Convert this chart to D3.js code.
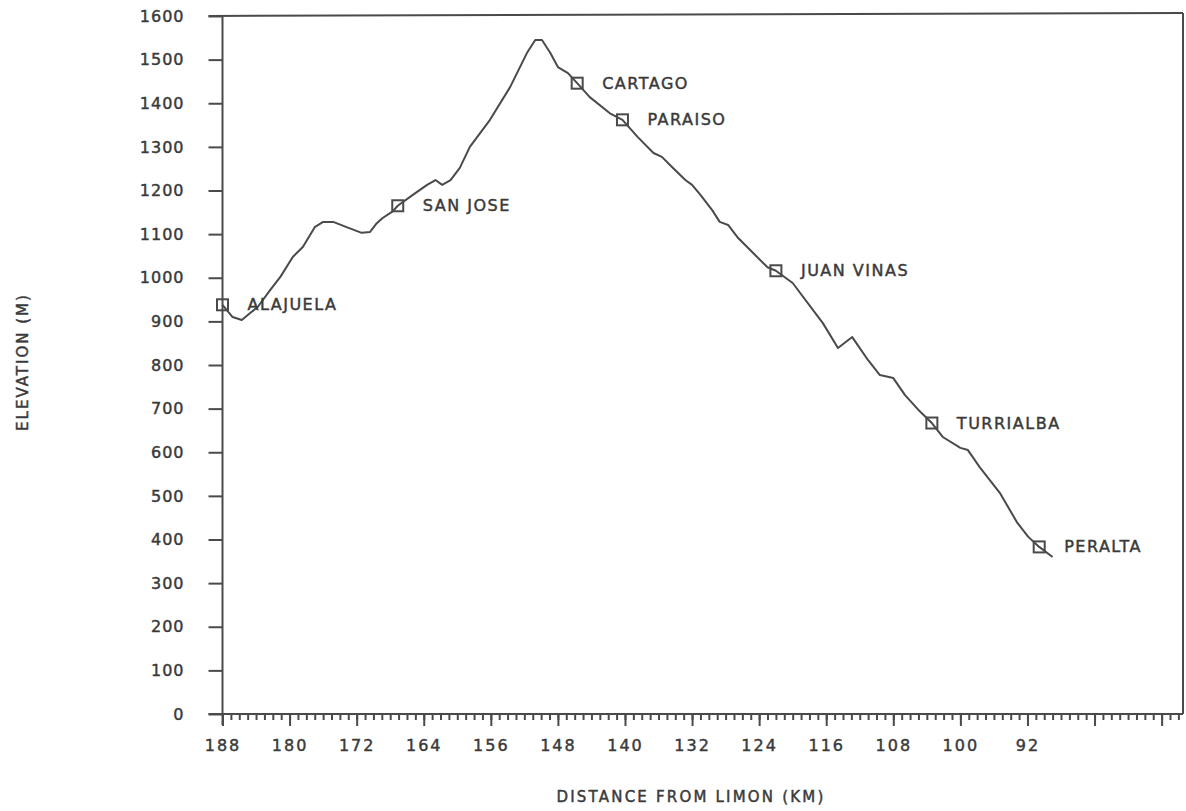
<!DOCTYPE html>
<html>
<head>
<meta charset="utf-8">
<script src="https://cdn.jsdelivr.net/npm/d3@7"></script>
<style>
  html, body { margin: 0; padding: 0; background: #ffffff; }
  svg { display: block; }
  text { font-family: "DejaVu Sans", sans-serif; fill: #3a3a3a; stroke: #3a3a3a; stroke-width: 0.45px; }
</style>
</head>
<body>
<script>
// ---- data ----
const distanceKm = [188, 186.8, 185.7, 184.7, 183.8, 182.3, 181.1, 179.6, 178.4, 177.0, 176.0, 174.8, 173.2, 171.4, 170.4, 169.6, 168.9, 167.7, 167.1, 165.3, 163.6, 162.6, 161.8, 160.8, 159.7, 158.5, 156.1, 153.7, 151.7, 150.7, 149.9, 148.9, 148.0, 146.8, 145.7, 144.2, 141.8, 140.3, 138.5, 136.6, 135.6, 134.3, 132.8, 132.0, 131.0, 129.6, 128.7, 127.7, 126.5, 125.1, 123.0, 122.0, 120.0, 116.4, 114.6, 112.9, 111.0, 109.6, 108.0, 106.6, 105.0, 103.4, 102.1, 100.0, 99.1, 97.7, 95.3, 93.2, 91.9, 90.6, 89.0];
const elevationM = [938, 910, 903, 919, 933, 972, 1002, 1048, 1071, 1116, 1128, 1128, 1116, 1103, 1105, 1125, 1137, 1152, 1165, 1190, 1213, 1224, 1213, 1224, 1252, 1300, 1362, 1437, 1515, 1545, 1545, 1515, 1483, 1469, 1446, 1414, 1377, 1362, 1323, 1286, 1277, 1252, 1224, 1213, 1190, 1155, 1128, 1121, 1091, 1064, 1024, 1016, 988, 896, 839, 864, 811, 777, 770, 731, 697, 667, 635, 610, 605, 566, 507, 438, 406, 383, 360];

const townNames = ["ALAJUELA", "SAN JOSE", "CARTAGO", "PARAISO", "JUAN VINAS", "TURRIALBA", "PERALTA"];
const townKm = [188, 167.1, 145.7, 140.3, 122.0, 103.4, 90.6];
const townElev = [938, 1165, 1446, 1362, 1016, 667, 383];

const xTickLabels = [188, 180, 172, 164, 156, 148, 140, 132, 124, 116, 108, 100, 92];
const xMajorTicks = [188, 180, 172, 164, 156, 148, 140, 132, 124, 116, 108, 100, 92, 84, 76];
const yTicks = [0, 100, 200, 300, 400, 500, 600, 700, 800, 900, 1000, 1100, 1200, 1300, 1400, 1500, 1600];

// ---- layout ----
const W = 1186, H = 811;
const pLeft = 222.5, pRight = 1183, pTop = 16, pBottom = 714;
const ink = "#4a4a4a";

const svg = d3.select("body").append("svg").attr("width", W).attr("height", H);

const x = d3.scaleLinear().domain([188, 73.45]).range([pLeft, pRight]);
const y = d3.scaleLinear().domain([0, 1600]).range([pBottom, pTop]);

// frame: top and right borders
svg.append("line").attr("x1", pLeft - 14).attr("x2", pRight).attr("y1", pTop).attr("y2", pTop - 3)
  .attr("stroke", ink).attr("stroke-width", 2);
svg.append("line").attr("x1", pRight).attr("x2", pRight).attr("y1", pTop - 3).attr("y2", pBottom)
  .attr("stroke", ink).attr("stroke-width", 2);

// y axis
const yAxis = d3.axisLeft(y).tickValues(yTicks).tickSize(14).tickPadding(24).tickFormat(d3.format("d"));
const gy = svg.append("g").attr("transform", `translate(${pLeft},0)`).call(yAxis);
gy.select(".domain").remove();
gy.selectAll(".tick line").attr("stroke", ink).attr("stroke-width", 2);
gy.selectAll(".tick text").attr("font-family", null).style("font-size", "16px").style("letter-spacing", "1px");
svg.append("line").attr("x1", pLeft).attr("x2", pLeft).attr("y1", pTop).attr("y2", pBottom + 11)
  .attr("stroke", ink).attr("stroke-width", 2);

// x axis line
svg.append("line").attr("x1", pLeft - 14).attr("x2", pRight).attr("y1", pBottom).attr("y2", pBottom)
  .attr("stroke", ink).attr("stroke-width", 2);

// minor ticks (every km)
const minor = d3.range(188, 73, -1);
const gMinor = svg.append("g").attr("transform", `translate(0,${pBottom})`)
  .call(d3.axisBottom(x).tickValues(minor).tickSize(6).tickFormat(""));
gMinor.select(".domain").remove();
gMinor.selectAll(".tick line").attr("stroke", ink).attr("stroke-width", 2);

// major ticks with labels
const gx = svg.append("g").attr("transform", `translate(0,${pBottom})`)
  .call(d3.axisBottom(x).tickValues(xMajorTicks).tickSize(12).tickPadding(14)
    .tickFormat(d => xTickLabels.includes(d) ? String(d) : ""));
gx.select(".domain").remove();
gx.selectAll(".tick line").attr("stroke", ink).attr("stroke-width", 2);
gx.selectAll(".tick text").attr("font-family", null).style("font-size", "16px").style("letter-spacing", "2px");

// axis titles
svg.append("text").attr("x", 691).attr("y", 797).attr("text-anchor", "middle").attr("dominant-baseline", "central")
  .style("font-size", "15px").style("letter-spacing", "2.2px").text("DISTANCE FROM LIMON (KM)");
svg.append("text").attr("transform", "translate(23,362) rotate(-90)").attr("text-anchor", "middle")
  .attr("dominant-baseline", "central").style("font-size", "15px").style("letter-spacing", "2px")
  .text("ELEVATION (M)");

// profile line
const pts = distanceKm.map((d, i) => [d, elevationM[i]]);
const line = d3.line().x(d => x(d[0])).y(d => y(d[1])).curve(d3.curveLinear);
svg.append("path").datum(pts).attr("d", line).attr("fill", "none")
  .attr("stroke", ink).attr("stroke-width", 2).attr("stroke-linejoin", "round");

// town markers & labels
const towns = townNames.map((n, i) => ({ name: n, km: townKm[i], elev: townElev[i] }));
const gt = svg.append("g");
gt.selectAll("rect").data(towns).join("rect")
  .attr("x", d => x(d.km) - 5.5).attr("y", d => y(d.elev) - 5.5)
  .attr("width", 11).attr("height", 11)
  .attr("fill", "none").attr("stroke", ink).attr("stroke-width", 2);
gt.selectAll("text").data(towns).join("text")
  .attr("x", d => x(d.km) + 25).attr("y", d => y(d.elev))
  .attr("dominant-baseline", "central")
  .style("font-size", "16px").style("letter-spacing", "1.5px")
  .text(d => d.name);
</script>
</body>
</html>
